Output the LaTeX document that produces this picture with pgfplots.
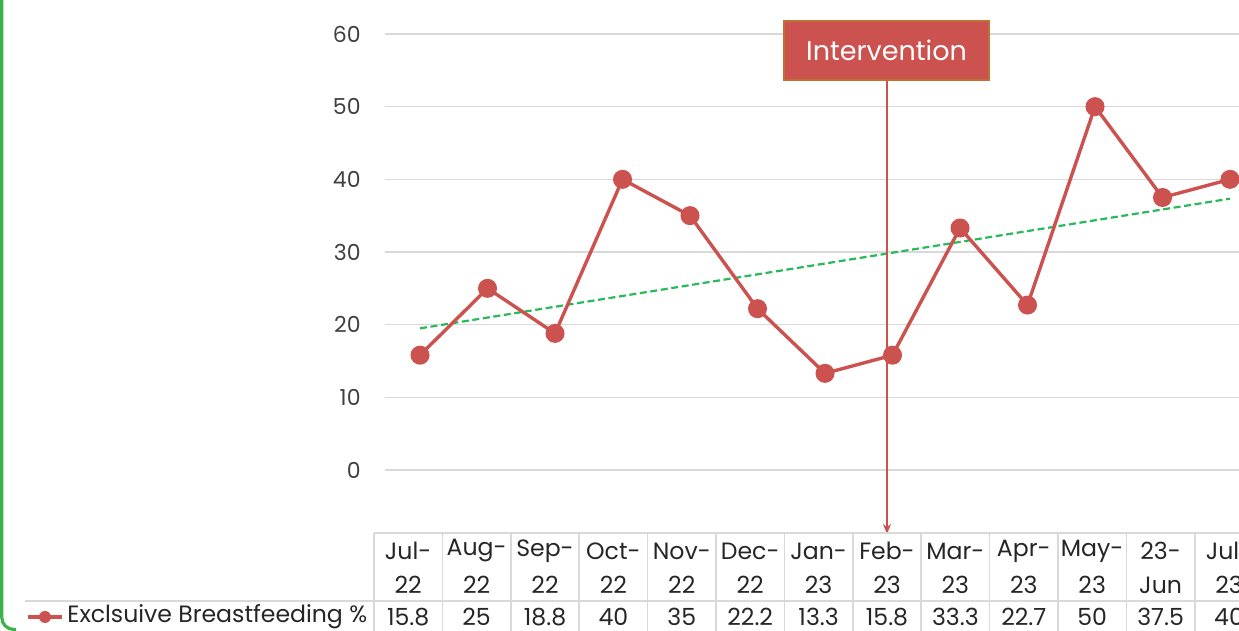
\documentclass[border=0pt]{standalone}
\usepackage{pgfplots}
\pgfplotsset{compat=1.18}
\usepackage{fontspec}
\setmainfont{Poppins}
\usetikzlibrary{arrows.meta}
\definecolor{exred}{RGB}{204,82,80}
\definecolor{trendgreen}{RGB}{40,185,90}
\definecolor{gridgray}{RGB}{217,217,217}
\definecolor{ticktxt}{RGB}{64,64,64}
\definecolor{tabtxt}{RGB}{38,38,38}
\definecolor{boxborder}{RGB}{192,112,50}
\definecolor{framegreen}{RGB}{60,178,75}
\newcommand{\tabfont}{\fontsize{11.8}{13}\selectfont}
\begin{document}
\begin{tikzpicture}
\clip (0,0) rectangle (619.5pt,315.5pt);
\begin{axis}[
  at={(192.5pt,80.5pt)}, anchor=south west,
  scale only axis, width=427pt, height=218pt,
  xmin=-0.519, xmax=12.133, ymin=0, ymax=60,
  xtick=\empty,
  ytick={0,10,20,30,40,50,60},
  ymajorgrids, grid style={gridgray, line width=0.8pt},
  axis line style={draw=none}, major tick length=0pt,
  yticklabel style={inner sep=0pt, xshift=-12pt, text=ticktxt, font=\fontsize{11}{12}\selectfont},
  /pgf/number format/assume math mode=true,
  clip=false,
]
\addplot[trendgreen, line width=1.1pt, dash pattern=on 3.5pt off 1.8pt] coordinates {(0,19.49) (12,37.34)};
\addplot[exred, line width=1.7pt, mark=*, mark size=3.9pt, mark options={fill=exred, draw=exred, solid}] coordinates {
  (0,15.8) (1,25) (2,18.8) (3,40) (4,35) (5,22.2) (6,13.3) (7,15.8) (8,33.3) (9,22.7) (10,50) (11,37.5) (12,40)};
\end{axis}
\begin{scope}[shift={(0pt,315.5pt)}, x=0.5pt, y=-0.5pt]
  % frame
  \draw[framegreen, line width=1.6pt, rounded corners=6pt] (1.8,-10) -- (1.8,629.5) -- (16,629.5);
  % intervention arrow
  \draw[exred, line width=0.8pt, -{Stealth[length=5pt,width=4pt]}] (887,80) -- (887,534);
  \node[fill=exred, draw=boxborder, line width=0.6pt, text=white, minimum width=102.5pt, minimum height=29.5pt, inner sep=0pt, font=\fontsize{13.5}{15}\selectfont] at (886.5,50.5) {Intervention};
  % table lines
  \draw[gridgray, line width=0.8pt] (374,533) -- (1239,533);
  \draw[gridgray, line width=0.8pt] (25,601) -- (1239,601);
  \foreach \k in {0,...,12} {
    \draw[gridgray, line width=0.8pt] ({374+68.4*\k},533) -- ({374+68.4*\k},640);
  }
  % headers
  \foreach \a/\b [count=\i from 0] in {Jul-/22, Aug-/22, Sep-/22, Oct-/22, Nov-/22, Dec-/22, Jan-/23, Feb-/23, Mar-/23, Apr-/23, May-/23, 23-/Jun, Jul-/23} {
    \node[text=tabtxt, font=\tabfont, inner sep=0pt] at ({408.2+68.4*\i},551) {\a};
    \node[text=tabtxt, font=\tabfont, inner sep=0pt] at ({408.2+68.4*\i},585) {\b};
  }
  \foreach \v [count=\i from 0] in {15.8, 25, 18.8, 40, 35, 22.2, 13.3, 15.8, 33.3, 22.7, 50, 37.5, 40} {
    \node[text=tabtxt, font=\tabfont, inner sep=0pt] at ({408.2+68.4*\i},617) {\v};
  }
  % legend key
  \draw[exred, line width=1.6pt] (28,617) -- (62,617);
  \fill[exred] (45,617) circle (6);
  \node[anchor=west, text=tabtxt, font=\tabfont, inner sep=0pt] at (67,617) {Exclsuive Breastfeeding \%};
\end{scope}
\end{tikzpicture}
\end{document}
